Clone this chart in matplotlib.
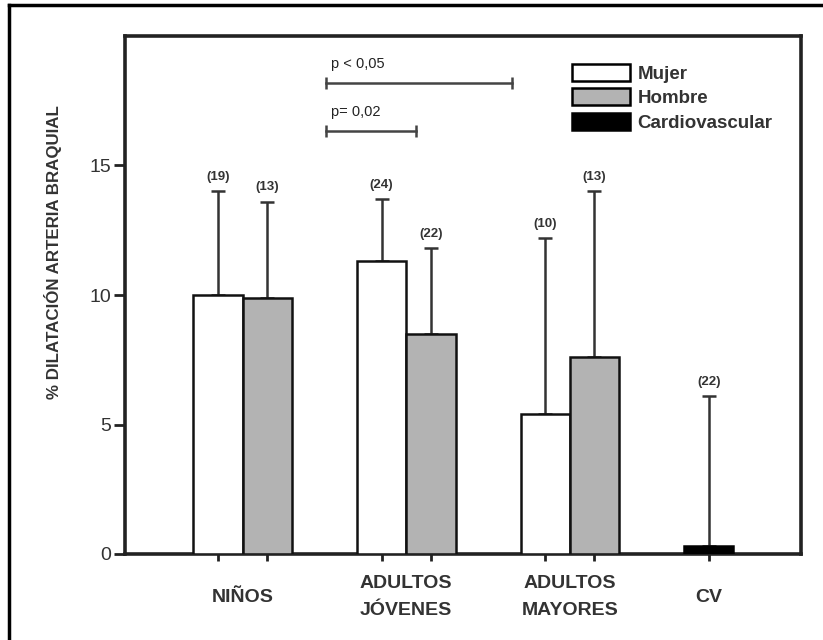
import matplotlib
matplotlib.use("Agg")
import matplotlib.pyplot as plt
import numpy as np
from matplotlib.patches import Patch
from matplotlib.lines import Line2D

plt.rcParams['font.family'] = ['Liberation Sans', 'DejaVu Sans']

groups = ["NIÑOS", "ADULTOS\nJÓVENES", "ADULTOS\nMAYORES", "CV"]
mujer = [10.0, 11.3, 5.4]
mujer_err = [4.0, 2.4, 6.8]
mujer_n = ["(19)", "(24)", "(10)"]
hombre = [9.9, 8.5, 7.6]
hombre_err = [3.7, 3.3, 6.4]
hombre_n = ["(13)", "(22)", "(13)"]
cv = [0.3]
cv_err = [5.8]
cv_n = ["(22)"]
legend_labels = ["Mujer", "Hombre", "Cardiovascular"]
sig_labels = ["p < 0,05", "p= 0,02"]
sig_y = [18.2, 16.35]
yticks = [0, 5, 10, 15]
ylabel = "% DILATACIÓN ARTERIA BRAQUIAL"

fig = plt.figure(figsize=(8.23, 6.4), dpi=100)
ax = fig.add_axes([125/823, 1-554/640, 676/823, 518/640])

spacing = 3.32
gstart = np.arange(len(groups)) * spacing
xm = gstart[:3]
xh = gstart[:3] + 1
xc = gstart[3:]
w = 1.0
ecol = "#333333"
ekw = dict(ecolor=ecol, elinewidth=1.8, capsize=5, capthick=1.8)

ax.bar(xm, mujer, w, color="white", edgecolor="#111111", linewidth=1.8, zorder=3)
ax.errorbar(xm, mujer, yerr=[np.zeros(3), mujer_err], fmt="none", zorder=2, **ekw)
ax.bar(xh, hombre, w, color="#b3b3b3", edgecolor="#111111", linewidth=1.8, zorder=3)
ax.errorbar(xh, hombre, yerr=[np.zeros(3), hombre_err], fmt="none", zorder=2, **ekw)
ax.bar(xc, cv, w, color="black", edgecolor="black", linewidth=1.8, zorder=3)
ax.errorbar(xc, cv, yerr=[np.zeros(1), cv_err], fmt="none", zorder=2, **ekw)

def nlabels(xs, vals, errs, labs):
    for x, v, e, l in zip(xs, vals, errs, labs):
        ax.annotate(l, (x, v + e), xytext=(0, 6), textcoords="offset points",
                    ha="center", va="bottom", fontsize=9.5, fontweight="bold", color="#333333")

nlabels(xm, mujer, mujer_err, mujer_n)
nlabels(xh, hombre, hombre_err, hombre_n)
nlabels(xc, cv, cv_err, cv_n)

# significance brackets
sig_x = [(gstart[1] - 1.12, gstart[2] - 0.67), (gstart[1] - 1.12, gstart[1] + 0.69)]
for (x0, x1), y, lab in zip(sig_x, sig_y, sig_labels):
    ax.plot([x0, x1], [y, y], color="#444444", lw=1.8, zorder=4)
    ax.plot([x0, x1], [y, y], ls="none", marker="|", ms=9, mew=1.8, color="#444444", zorder=4)
    ax.text(x0 + 0.1, y + 0.45, lab, fontsize=10.5, color="#222222", ha="left", va="bottom")

ax.set_xlim(-1.886, 11.83)
ax.set_ylim(0, 20)
ax.set_yticks(yticks)
ax.set_yticklabels([str(t) for t in yticks], fontsize=14, color="#333333")
allx = np.concatenate([xm, xh, xc])
ax.set_xticks(np.sort(allx))
ax.set_xticklabels([])
ax.tick_params(axis="y", direction="out", length=8, width=2, color="#222222", pad=2)
ax.tick_params(axis="x", direction="out", length=5, width=2, color="#222222")
for s in ax.spines.values():
    s.set_linewidth(2.6)
    s.set_color("#222222")

gcenters = list(gstart[:3] + 0.5) + [gstart[3]]
for gx, g in zip(gcenters, groups):
    ax.text(gx, -(597-554)/518, g, transform=ax.get_xaxis_transform(), ha="center", va="center",
            fontsize=14, fontweight="bold", color="#333333", linespacing=1.75)

fig.text(53/823, 1-252/640, ylabel, rotation=90, ha="center", va="center",
         fontsize=12.2, fontweight="bold", color="#333333")

handles = [Patch(facecolor="white", edgecolor="black", linewidth=1.8),
           Patch(facecolor="#b3b3b3", edgecolor="black", linewidth=1.8),
           Patch(facecolor="black", edgecolor="black", linewidth=1.8)]
leg = ax.legend(handles, legend_labels, loc="upper left",
                bbox_to_anchor=((572-125)/676, 1-(64-36)/518), frameon=False,
                prop=dict(size=13.5, weight="bold"), handlelength=3.1, handleheight=1.0,
                handletextpad=0.4, labelspacing=0.3, borderpad=0, borderaxespad=0)
for t in leg.get_texts():
    t.set_color("#333333")

# outer frame (top and left edges)
fig.add_artist(Line2D([9/823, 1], [1-5/640, 1-5/640], color="black", lw=2.5))
fig.add_artist(Line2D([9/823, 9/823], [0, 1-5/640], color="black", lw=2.5))

fig.savefig("out.png", dpi=100)
